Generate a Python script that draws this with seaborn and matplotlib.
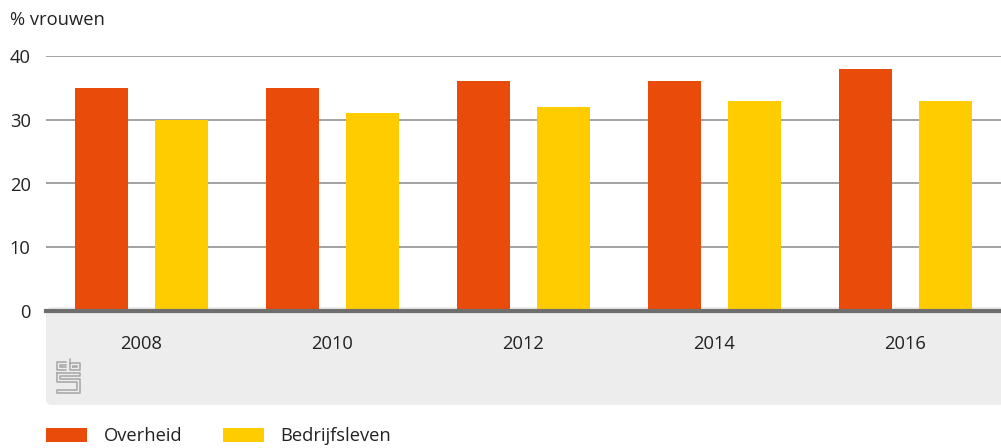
import pandas as pd
import matplotlib
matplotlib.use("Agg")
import matplotlib.pyplot as plt
from matplotlib.patches import FancyBboxPatch
import seaborn as sns

# data
jaren = ["2008", "2010", "2012", "2014", "2016"]
overheid = [35, 35, 36, 36, 38]
bedrijfsleven = [30, 31, 32, 33, 33]
reeksen = ["Overheid", "Bedrijfsleven"]
kleuren = ["#e94c0a", "#ffcc00"]

df = pd.DataFrame({
    "Jaar": jaren * 2,
    "Waarde": overheid + bedrijfsleven,
    "Reeks": [reeksen[0]] * len(jaren) + [reeksen[1]] * len(jaren),
})

sns.set_style("white")
plt.rcParams["font.family"] = ["Open Sans", "DejaVu Sans"]

W, H = 1001, 448
FS = 13.2
fig = plt.figure(figsize=(W / 100, H / 100), dpi=100)

# grijze band onder de as
band = FancyBboxPatch(
    (46 / W + 0.004, 1 - 405 / H + 0.009), 955 / W - 0.004, 94 / H - 0.009,
    boxstyle="round,pad=0.004,rounding_size=0.006",
    transform=fig.transFigure, facecolor="#ededed", edgecolor="none",
    zorder=-5, mutation_aspect=W / H,
)
fig.patches.append(band)

ax = fig.add_axes([46 / W, 1 - 311 / H, 955 / W, 255 / H])
ax.set_zorder(2)

sns.barplot(
    data=df, x="Jaar", y="Waarde", hue="Reeks",
    palette=kleuren, width=0.84, gap=0.33,
    saturation=1, linewidth=0, ax=ax, zorder=3,
)

ax.set_xlim(-0.5, 4.5)
ax.set_ylim(0, 40)
ax.set_yticks([0, 10, 20, 30, 40])
ax.yaxis.grid(True, color="#9a9a9a", linewidth=1.3)
ax.set_axisbelow(True)
for s in ["top", "right", "left"]:
    ax.spines[s].set_visible(False)
ax.spines["bottom"].set_color("#6e6e6e")
ax.spines["bottom"].set_linewidth(3)
ax.spines["bottom"].set_zorder(5)
ax.set_xlabel("")
ax.set_ylabel("")
ax.tick_params(axis="x", length=0, pad=17, labelsize=FS, labelcolor="#222222")
ax.tick_params(axis="y", length=0, pad=11, labelsize=FS, labelcolor="#222222")
ax.patch.set_alpha(0)

fig.text(10 / W, 1 - 20 / H, "% vrouwen", fontsize=FS, color="#222222",
         va="center", ha="left")

# legenda
handles, labels = ax.get_legend_handles_labels()
ax.legend_.remove()
fig.legend(
    handles, labels, loc="center left",
    bbox_to_anchor=(46 / W, 1 - 436 / H), ncol=2, frameon=False,
    borderaxespad=0, borderpad=0,
    fontsize=FS, handlelength=2.25, handleheight=0.8,
    handletextpad=0.9, columnspacing=2.2, labelcolor="#222222",
)

# eenvoudig cbs-logo
logo = fig.add_axes([56 / W, 1 - 394 / H, 25 / W, 36 / H])
logo.set_zorder(3)
logo.set_xlim(0, 25)
logo.set_ylim(0, 36)
logo.axis("off")
lc = "#aaaaaa"
lijnen = [
    ([10, 1, 1, 10], [32, 32, 24, 24]),
    ([10, 4, 4, 10], [29, 29, 27, 27]),
    ([14, 14, 24, 24, 14], [35, 24, 24, 31, 31]),
    ([17, 17, 21, 21, 17], [27, 28, 28, 27, 27]),
    ([1, 24, 24, 4, 4, 24, 24, 1, 1, 21, 21, 1, 1], [21, 21, 18, 18, 15, 15, 1, 1, 4, 4, 12, 12, 21]),
]
for xs, ys in lijnen:
    logo.plot(xs, ys, color=lc, linewidth=1.2)

fig.savefig("out.png", dpi=100)
